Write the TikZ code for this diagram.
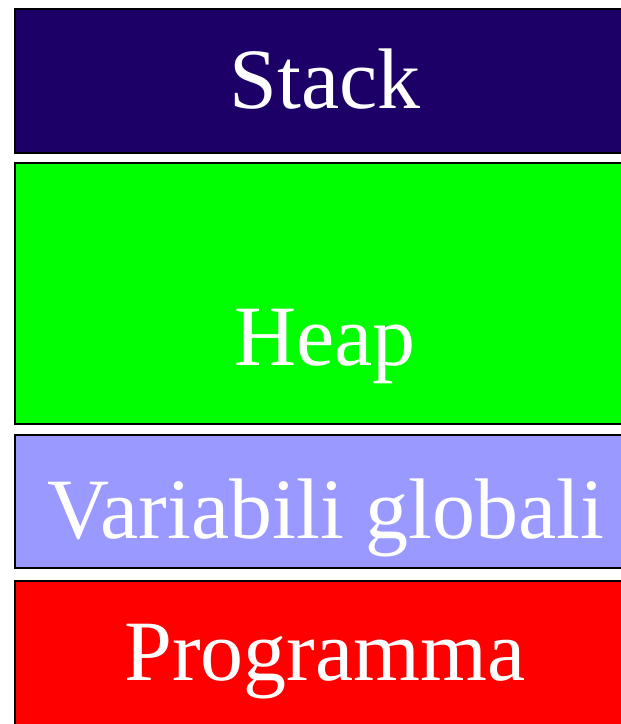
\documentclass[tikz,border=0pt]{standalone}
\usepackage{fontspec}
\setmainfont{Liberation Serif}
\definecolor{stackc}{RGB}{28,0,104}
\definecolor{heapc}{RGB}{0,255,0}
\definecolor{globc}{RGB}{153,153,255}
\definecolor{progc}{RGB}{255,0,0}
\begin{document}
\begin{tikzpicture}[x=1pt,y=-1pt,
  seg/.style={draw=black,line width=2.2pt},
  lbl/.style={text=white,font=\fontsize{86}{86}\selectfont,anchor=base,inner sep=0pt}]
\useasboundingbox (0,0) rectangle (621,724);
\begin{scope}
\clip (0,0) rectangle (621,724);
\path[seg,fill=stackc] (15,9) rectangle (640,153);
\path[seg,fill=heapc] (15,163) rectangle (640,424);
\path[seg,fill=globc] (15,435) rectangle (640,568);
\path[seg,fill=progc] (15,581) rectangle (640,740);
\end{scope}
\node[lbl] (s) at (325,108) {Stack};
\node[lbl] (h) at (325,365) {Heap};
\node[lbl] (g) at (326,538) {Variabili globali};
\node[lbl] (p) at (325,680) {Programma};
\end{tikzpicture}
\end{document}
